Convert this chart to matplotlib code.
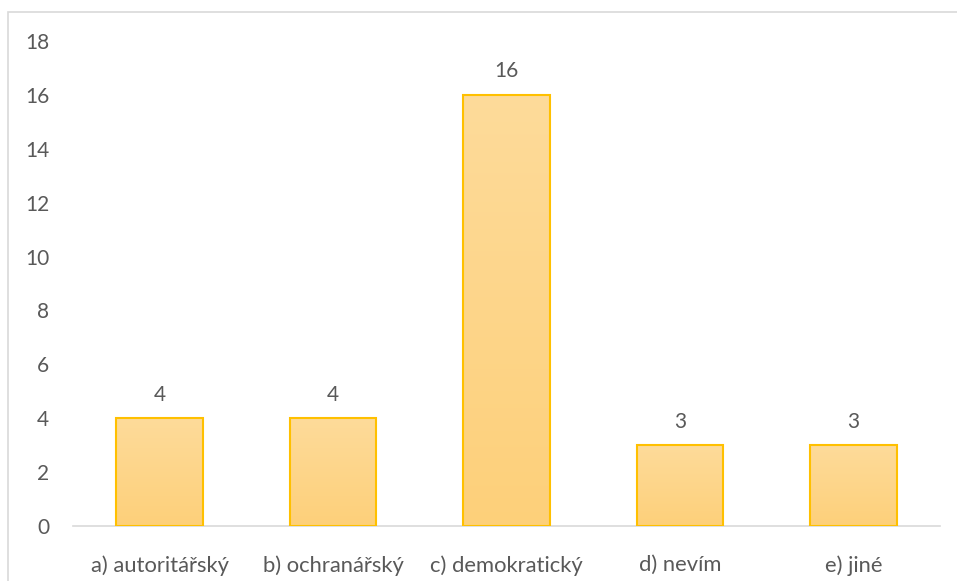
import numpy as np
import matplotlib
matplotlib.use('Agg')
import matplotlib.pyplot as plt
from matplotlib.patches import Rectangle

categories = ['a) autoritářský', 'b) ochranářský', 'c) demokratický', 'd) nevím', 'e) jiné']
values = [4, 4, 16, 3, 3]
yticks = [0, 2, 4, 6, 8, 10, 12, 14, 16, 18]

plt.rcParams.update({
    'font.family': ['Lato', 'DejaVu Sans'],
    'font.size': 15
})
text_color = '#595959'

fig = plt.figure(figsize=(9.57, 5.81), dpi=100)
ax = fig.add_axes([73 / 957, 55 / 581, 867 / 957, 485 / 581])

x = np.arange(len(categories))
bars = ax.bar(x, values, width=0.5, color='none', edgecolor='#FFC000', linewidth=1.5, zorder=3)

# vertical gradient inside each bar
grad = np.linspace(0, 1, 256).reshape(-1, 1)
cmap = matplotlib.colors.LinearSegmentedColormap.from_list('g', ['#FDD07A', '#FEDB9A'])
for b in bars:
    x0, w, h = b.get_x(), b.get_width(), b.get_height()
    im = ax.imshow(grad, extent=[x0, x0 + w, 0, h], origin='lower', aspect='auto',
                   cmap=cmap, zorder=2)
    im.set_clip_path(b)
    ax.text(x0 + w / 2, h + 0.5, str(int(h)), ha='center', va='bottom',
            color=text_color, fontsize=15)

ax.set_xlim(-0.5, len(categories) - 0.5)
ax.set_ylim(0, 18)
ax.set_yticks(yticks)
ax.set_xticks(x)
ax.set_xticklabels(categories)
ax.tick_params(axis='both', length=0, colors=text_color)
ax.tick_params(axis='y', pad=17, labelsize=15)
ax.tick_params(axis='x', pad=21, labelsize=15.8)
for s in ['top', 'right', 'left']:
    ax.spines[s].set_visible(False)
ax.spines['bottom'].set_color('#D9D9D9')
ax.spines['bottom'].set_linewidth(1.2)

# outer chart frame
fig.patches.append(Rectangle((8 / 957, -0.05), 1.1, 1 - 12 / 581 + 0.05,
                             transform=fig.transFigure, fill=False,
                             edgecolor='#D9D9D9', linewidth=1.2))

fig.savefig('out.png', dpi=100)
